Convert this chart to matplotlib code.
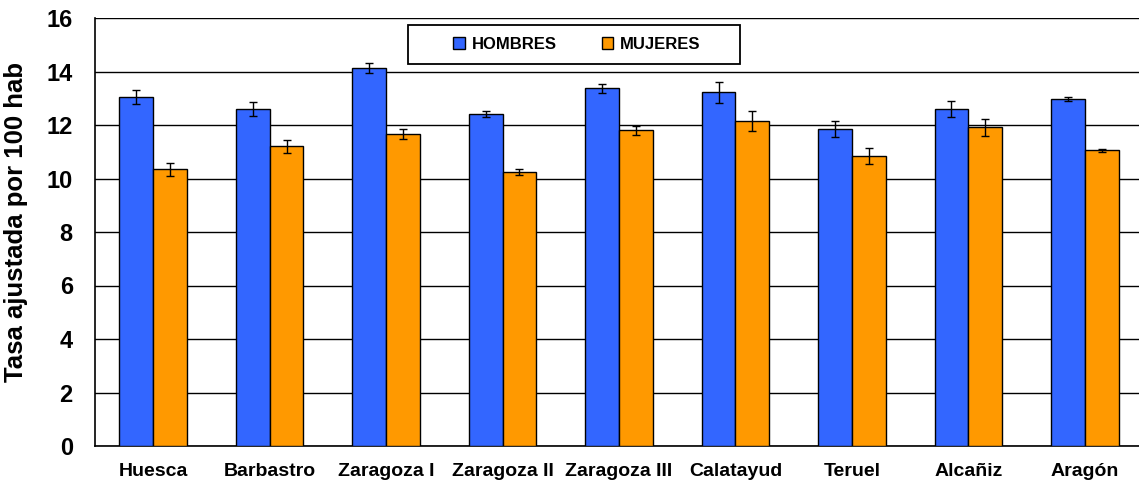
import numpy as np
import matplotlib
matplotlib.use("Agg")
import matplotlib.pyplot as plt
from matplotlib.patches import Rectangle

plt.rcParams['font.family'] = ['Liberation Sans', 'DejaVu Sans']

# Data
zonas = ['Huesca', 'Barbastro', 'Zaragoza I', 'Zaragoza II', 'Zaragoza III',
         'Calatayud', 'Teruel', 'Alcañiz', 'Aragón']
hombres = [13.05, 12.60, 14.13, 12.41, 13.37, 13.22, 11.86, 12.61, 12.97]
hombres_err = [0.25, 0.25, 0.20, 0.12, 0.18, 0.40, 0.30, 0.30, 0.07]
mujeres = [10.35, 11.20, 11.66, 10.24, 11.81, 12.16, 10.85, 11.91, 11.05]
mujeres_err = [0.24, 0.24, 0.20, 0.10, 0.17, 0.38, 0.30, 0.31, 0.05]

x = np.arange(len(zonas))
w = 0.29

fig = plt.figure(figsize=(11.39, 4.82), dpi=100)
ax = fig.add_axes([95 / 1139, 36 / 482, 1048 / 1139, 428 / 482])

ekw = {'elinewidth': 1, 'capthick': 1}
ax.bar(x - w / 2, hombres, w, color='#3366FF', edgecolor='black', linewidth=1,
       yerr=hombres_err, capsize=3, error_kw=ekw, label='HOMBRES', zorder=3)
ax.bar(x + w / 2, mujeres, w, color='#FF9900', edgecolor='black', linewidth=1,
       yerr=mujeres_err, capsize=3, error_kw=ekw, label='MUJERES', zorder=3)

ax.set_xlim(-0.5, len(zonas) - 0.5)
ax.set_ylim(0, 16)
ax.set_yticks(range(0, 17, 2))
ax.yaxis.grid(True, color='black', linewidth=1)
ax.set_axisbelow(True)

ax.set_xticks(x)
ax.set_xticklabels(zonas, fontsize=14, fontweight='bold')
ax.tick_params(axis='x', length=0, pad=12)
ax.tick_params(axis='y', labelsize=17, length=0, pad=16)
for lbl in ax.get_yticklabels():
    lbl.set_fontweight('bold')

ax.set_ylabel('Tasa ajustada por 100 hab', fontsize=18.5, fontweight='bold')
ax.yaxis.set_label_coords(-0.064, 0.523)

for s in ['top', 'right']:
    ax.spines[s].set_visible(False)
ax.spines['left'].set_linewidth(1.2)
ax.spines['bottom'].set_linewidth(1.2)

# legend frame box
fig.patches.append(Rectangle((408 / 1139, 1 - 64 / 482), 332 / 1139, 39 / 482,
                             transform=fig.transFigure, facecolor='white',
                             edgecolor='black', linewidth=1.3, zorder=4))
leg = fig.legend(loc='center', bbox_to_anchor=(577 / 1139, 1 - 44.5 / 482), ncol=2,
                 frameon=False, prop={'weight': 'bold', 'size': 12},
                 handlelength=0.7, handleheight=0.7, columnspacing=2.7,
                 handletextpad=0.4, borderpad=0, borderaxespad=0)
leg.set_zorder(5)

fig.savefig('out.png', dpi=100)
